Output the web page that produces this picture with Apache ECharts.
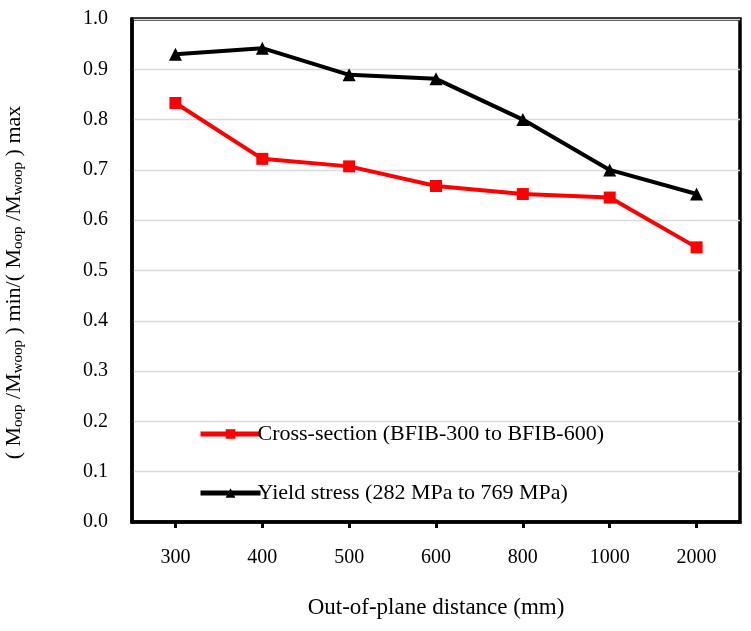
<!DOCTYPE html>
<html><head><meta charset="utf-8">
<script src="https://cdn.jsdelivr.net/npm/echarts@6/dist/echarts.min.js"></script>
<style>html,body{margin:0;padding:0;background:#fff}#c{width:751px;height:631px}</style>
</head><body><div id="c"></div>
<script>
var categories = ['300','400','500','600','800','1000','2000'];
var crossSection = [0.833, 0.722, 0.707, 0.668, 0.652, 0.645, 0.546];
var yieldStress = [0.93, 0.942, 0.889, 0.881, 0.80, 0.70, 0.652];
var seriesNames = ['Cross-section (BFIB-300 to BFIB-600)', 'Yield stress (282 MPa to 769 MPa)'];
var FONT = 'Liberation Serif';
var chart = echarts.init(document.getElementById('c'));
chart.setOption({
  animation: false,
  textStyle: {fontFamily: FONT},
  grid: {left: 132, right: 11, top: 19, bottom: 109, containLabel: false, outerBoundsMode: 'none',
         show: true, borderColor: '#000', borderWidth: 3.5, backgroundColor: 'transparent'},
  legend: {
    left: 193, top: 418, orient: 'vertical', itemGap: 37,
    itemWidth: 60, itemHeight: 12,
    lineStyle: {width: 5},
    textStyle: {fontFamily: FONT, fontSize: 22, lineHeight: 22, color: '#000', padding: [0,0,0,-8]},
    data: seriesNames
  },
  xAxis: {
    type: 'category', data: categories, boundaryGap: true,
    axisLine: {show: true, lineStyle: {color: '#000', width: 3.5}},
    axisTick: {show: true, alignWithLabel: true, length: 6, lineStyle: {color: '#000', width: 3}},
    axisLabel: {fontFamily: FONT, fontSize: 20, color: '#000', margin: 26},
    name: 'Out-of-plane distance (mm)', nameLocation: 'middle', nameGap: 74,
    nameTextStyle: {fontFamily: FONT, fontSize: 23, color: '#000'}
  },
  yAxis: {
    type: 'value', min: 0, max: 1, interval: 0.1,
    axisLine: {show: true, lineStyle: {color: '#000', width: 3.5}},
    axisTick: {show: false},
    splitLine: {show: true, lineStyle: {color: '#d9d9d9', width: 1.3}},
    axisLabel: {fontFamily: FONT, fontSize: 20, color: '#000', margin: 24, formatter: function(v){return v.toFixed(1);}},
    name: '{n|( M}{s|oop}{n| /M}{s|woop}{n| ) min/( M}{s|oop}{n| /M}{s|woop}{n| ) max}',
    nameLocation: 'middle', nameGap: 106, nameRotate: 90,
    nameTextStyle: {
      padding: [0, 24, 0, 0],
      rich: {
        n: {fontFamily: FONT, fontSize: 22, color: '#000'},
        s: {fontFamily: FONT, fontSize: 15, color: '#000', verticalAlign: 'bottom', padding: [9,0,0,0]}
      }
    }
  },
  series: [
    {name: seriesNames[0], type: 'line', data: crossSection, symbol: 'rect', symbolSize: 12,
     lineStyle: {color: '#ff0000', width: 4}, itemStyle: {color: '#ff0000'}},
    {name: seriesNames[1], type: 'line', data: yieldStress, symbol: 'triangle', symbolSize: 13,
     lineStyle: {color: '#000', width: 4}, itemStyle: {color: '#000'}}
  ]
});
</script></body></html>
